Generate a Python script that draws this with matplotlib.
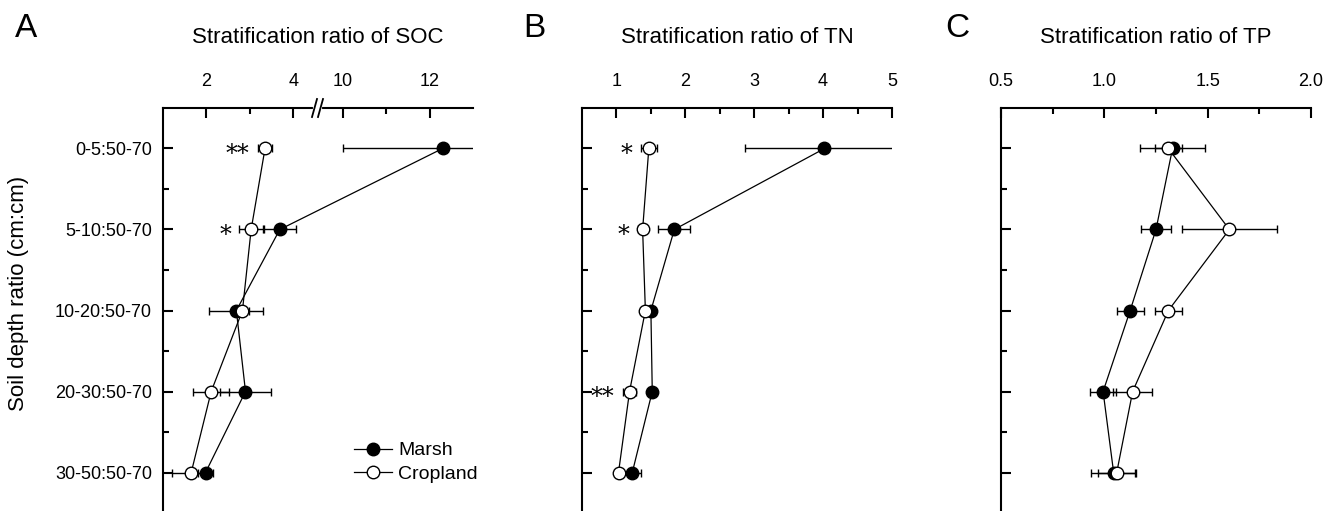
import numpy as np
import matplotlib
matplotlib.use("Agg")
import matplotlib.pyplot as plt
from matplotlib.ticker import FixedLocator
from matplotlib.lines import Line2D

plt.rcParams['font.family'] = ['Liberation Sans', 'DejaVu Sans']

# ---------------- data ----------------
depth_labels = ["0-5:50-70", "5-10:50-70", "10-20:50-70", "20-30:50-70", "30-50:50-70"]
rows = [1, 2, 3, 4, 5]

soc_marsh = [12.3, 3.69, 2.69, 2.90, 1.98]
soc_marsh_err = [2.3, 0.37, 0.62, 0.59, 0.17]
soc_crop = [3.35, 3.03, 2.83, 2.11, 1.65]
soc_crop_err = [0.17, 0.28, 0.14, 0.42, 0.44]
soc_sig = ["**", "*", "", "", ""]

tn_marsh = [4.02, 1.84, 1.50, 1.52, 1.23]
tn_marsh_err = [1.16, 0.23, 0.04, 0.02, 0.13]
tn_crop = [1.47, 1.38, 1.42, 1.19, 1.03]
tn_crop_err = [0.12, 0.07, 0.05, 0.10, 0.03]
tn_sig = ["*", "*", "", "**", ""]

tp_marsh = [1.33, 1.25, 1.125, 0.994, 1.045]
tp_marsh_err = [0.157, 0.072, 0.066, 0.064, 0.11]
tp_crop = [1.31, 1.605, 1.31, 1.137, 1.06]
tp_crop_err = [0.064, 0.23, 0.064, 0.093, 0.09]
tp_sig = ["", "", "", "", ""]

titles = ["Stratification ratio of SOC", "Stratification ratio of TN", "Stratification ratio of TP"]
letters = ["A", "B", "C"]

# ---------------- layout ----------------
W, H = 1335, 511
fig = plt.figure(figsize=(W / 100, H / 100), dpi=100)

lefts_px = [163, 582, 1001]
width_px = 310
top_px = 108
bottom_px = 513

axes = []
for lp in lefts_px:
    ax = fig.add_axes([lp / W, 1 - bottom_px / H, width_px / W, (bottom_px - top_px) / H])
    axes.append(ax)

# broken x-scale for SOC panel
B0, B1, OFF = 4.5, 9.41, 4.86
slope = 0.05 / (B1 - B0)

def fwd(x):
    x = np.asarray(x, dtype=float)
    return np.where(x <= B0, x, np.where(x >= B1, x - OFF, B0 + (x - B0) * slope))

def inv(y):
    y = np.asarray(y, dtype=float)
    yb = B0 + (B1 - B0) * slope
    return np.where(y <= B0, y, np.where(y >= yb, y + OFF, B0 + (y - B0) / slope))

panels = [
    (soc_marsh, soc_marsh_err, soc_crop, soc_crop_err, soc_sig),
    (tn_marsh, tn_marsh_err, tn_crop, tn_crop_err, tn_sig),
    (tp_marsh, tp_marsh_err, tp_crop, tp_crop_err, tp_sig),
]

for i, ax in enumerate(axes):
    m, me, c, ce, sig = panels[i]
    if i == 0:
        ax.set_xscale('function', functions=(fwd, inv))
        ax.set_xlim(1, 13)
        ax.xaxis.set_major_locator(FixedLocator([2, 4, 10, 12]))
        ax.xaxis.set_minor_locator(FixedLocator([3, 11]))
        ax.set_xticklabels(["2", "4", "10", "12"])
    elif i == 1:
        ax.set_xlim(0.5, 5)
        ax.xaxis.set_major_locator(FixedLocator([1, 2, 3, 4, 5]))
        ax.xaxis.set_minor_locator(FixedLocator([1.5, 2.5, 3.5, 4.5]))
    else:
        ax.set_xlim(0.5, 2.0)
        ax.xaxis.set_major_locator(FixedLocator([0.5, 1.0, 1.5, 2.0]))
        ax.xaxis.set_minor_locator(FixedLocator([0.75, 1.25, 1.75]))
        ax.set_xticklabels(["0.5", "1.0", "1.5", "2.0"])

    ax.set_ylim(5.5, 0.5)
    ax.yaxis.set_major_locator(FixedLocator(rows))
    ax.yaxis.set_minor_locator(FixedLocator([1.5, 2.5, 3.5, 4.5]))

    for s in ['right', 'bottom']:
        ax.spines[s].set_visible(False)
    for s in ['top', 'left']:
        ax.spines[s].set_linewidth(1.5)

    ax.xaxis.tick_top()
    ax.tick_params(axis='x', which='major', direction='in', length=7, width=1.5,
                   labelsize=13, pad=13, top=True, bottom=False)
    ax.tick_params(axis='x', which='minor', direction='in', length=4, width=1.5,
                   top=True, bottom=False)
    ax.tick_params(axis='y', which='major', direction='in', length=7, width=1.5,
                   labelsize=13, pad=8, left=True, right=False)
    ax.tick_params(axis='y', which='minor', direction='in', length=4, width=1.5,
                   left=True, right=False)

    if i == 0:
        ax.set_yticklabels(depth_labels)
    else:
        ax.set_yticklabels([])

    ekw = dict(ecolor='black', elinewidth=1.0, capsize=3, capthick=1.0)
    ax.errorbar(m, rows, xerr=me, fmt='-o', color='black', mfc='black', mec='black',
                ms=9, mew=1.0, lw=0.9, zorder=3, **ekw)
    ax.errorbar(c, rows, xerr=ce, fmt='-o', color='black', mfc='white', mec='black',
                ms=9, mew=1.0, lw=0.9, zorder=4, **ekw)

    # significance marks
    for r, s, cv, cev, mv, mev in zip(rows, sig, c, ce, m, me):
        if s:
            xleft = min(cv - cev, mv - mev)
            xd = ax.transData.transform((xleft, r))
            fig.text((xd[0] - 8) / W, (xd[1] - 6) / H, s, ha='right', va='center',
                     fontsize=17, family=['DejaVu Serif'])

    # titles
    cx = (lefts_px[i] + width_px / 2) / W
    fig.text(cx, 1 - 43 / H, titles[i], ha='center', va='baseline', fontsize=16)

letter_x = [15, 523, 945]
for L, lx in zip(letters, letter_x):
    fig.text(lx / W, 1 - 37 / H, L, ha='left', va='baseline', fontsize=24)

# y-axis label
fig.text(19 / W, 1 - 293 / H, "Soil depth ratio (cm:cm)", rotation=90,
         ha='center', va='center', fontsize=16)

# break marks on SOC top spine (pixel coordinates, image y measured from top)
def img2fig(x, y):
    return x / W, 1 - y / H

xa, ya = img2fig(314, top_px)
xb, yb = img2fig(321, top_px)
fig.add_artist(Line2D([xa + 1 / W, xb - 1 / W], [ya, yb], color='white', lw=3, zorder=10))
for x0 in (312, 318):
    x1, y1 = img2fig(x0, 117)
    x2, y2 = img2fig(x0 + 5, 99)
    fig.add_artist(Line2D([x1, x2], [y1, y2], color='black', lw=1.3, zorder=11))

# legend (handles show line + marker only)
h_marsh = Line2D([], [], color='black', lw=0.9, marker='o', ms=9, mfc='black', mec='black')
h_crop = Line2D([], [], color='black', lw=0.9, marker='o', ms=9, mfc='white', mec='black')
axes[0].legend([h_marsh, h_crop], ["Marsh", "Cropland"], loc='upper left',
               bbox_to_anchor=((357 - 163) / width_px - 0.03, (bottom_px - 436) / (bottom_px - top_px)),
               frameon=False, fontsize=14, handlelength=2.0, handletextpad=0.3,
               labelspacing=0.3, borderaxespad=0, borderpad=0.3)

fig.savefig("out.png", dpi=100)
